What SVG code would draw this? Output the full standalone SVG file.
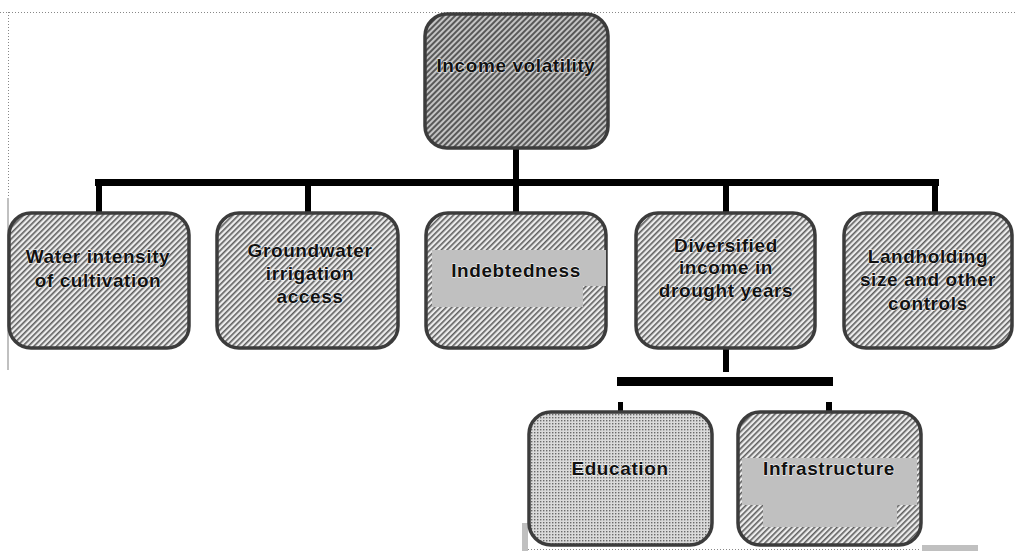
<svg xmlns="http://www.w3.org/2000/svg" width="1016" height="551" viewBox="0 0 1016 551">
<defs>
<pattern id="hatch" patternUnits="userSpaceOnUse" width="4" height="4" patternTransform="rotate(45)">
<rect width="4" height="4" fill="#ececec"/>
<rect width="1.6" height="4" fill="#5e5e5e"/>
</pattern>
<pattern id="hatchDark" patternUnits="userSpaceOnUse" width="4" height="4" patternTransform="rotate(45)">
<rect width="4" height="4" fill="#c4c4c4"/>
<rect width="2" height="4" fill="#585858"/>
</pattern>
<pattern id="stipple" patternUnits="userSpaceOnUse" width="3" height="3">
<rect width="3" height="3" fill="#dadada"/>
<rect width="1.4" height="1.4" fill="#6a6a6a"/>
</pattern>
</defs>
<style>
.box{stroke:#3c3c3c;stroke-width:3.5}
.lbl{font-family:"Liberation Sans",Arial,sans-serif;font-weight:bold;font-size:19px;letter-spacing:0.6px;fill:#111;text-anchor:middle;stroke:#ffffff;stroke-width:0.8;paint-order:stroke}
.bar{fill:#000}
.gray{fill:#c0c0c0}
.dot{stroke:#888;stroke-width:1;stroke-dasharray:1 2;fill:none}
</style>
<g id="decor">
<line class="dot" x1="0" y1="12.5" x2="1016" y2="12.5"/>
<line class="dot" x1="8.5" y1="12" x2="8.5" y2="372"/>
<rect class="gray" x="7" y="198" width="2" height="172"/>
<line class="dot" x1="528" y1="549.5" x2="921" y2="549.5"/>
<rect class="gray" x="522" y="523" width="6" height="28"/>
<rect class="gray" x="922" y="545" width="56" height="6"/>
</g>
<g id="connectors">
<rect class="bar" x="513" y="146" width="6" height="38"/>
<rect class="bar" x="95" y="179" width="844" height="7"/>
<rect class="bar" x="96" y="179" width="6" height="34"/>
<rect class="bar" x="305" y="179" width="6" height="34"/>
<rect class="bar" x="513" y="179" width="6" height="34"/>
<rect class="bar" x="723" y="179" width="6" height="34"/>
<rect class="bar" x="932" y="179" width="6" height="34"/>
<rect class="bar" x="723" y="346" width="6" height="26"/>
<rect class="bar" x="617" y="377" width="216" height="9"/>
<rect class="bar" x="618" y="402" width="5" height="10"/>
<rect class="bar" x="826" y="402" width="6" height="10"/>
</g>
<g id="income-volatility">
<rect class="box" x="425" y="14" width="183" height="134" rx="22" fill="url(#hatchDark)"/>
<text class="lbl" x="516" y="72">Income volatility</text>
</g>
<g id="water-intensity">
<rect class="box" x="9" y="213" width="180" height="135" rx="22" fill="url(#hatch)"/>
<text class="lbl" x="98" y="263">Water intensity</text>
<text class="lbl" x="98" y="287">of cultivation</text>
</g>
<g id="groundwater">
<rect class="box" x="217" y="213" width="181" height="135" rx="22" fill="url(#hatch)"/>
<text class="lbl" x="310" y="257">Groundwater</text>
<text class="lbl" x="310" y="280">irrigation</text>
<text class="lbl" x="310" y="303">access</text>
</g>
<g id="indebtedness">
<rect class="box" x="426" y="213" width="180" height="135" rx="22" fill="url(#hatch)"/>
<rect class="gray" x="432" y="250" width="174" height="36"/>
<rect class="gray" x="432" y="286" width="151" height="21"/>
<text class="lbl" x="516" y="277">Indebtedness</text>
</g>
<g id="diversified">
<rect class="box" x="636" y="213" width="179" height="135" rx="22" fill="url(#hatch)"/>
<text class="lbl" x="726" y="252">Diversified</text>
<text class="lbl" x="726" y="274">income in</text>
<text class="lbl" x="726" y="297">drought years</text>
</g>
<g id="landholding">
<rect class="box" x="844" y="213" width="168" height="135" rx="22" fill="url(#hatch)"/>
<text class="lbl" x="928" y="263">Landholding</text>
<text class="lbl" x="928" y="286">size and other</text>
<text class="lbl" x="928" y="310">controls</text>
</g>
<g id="education">
<rect class="box" x="529" y="412" width="183" height="133" rx="22" fill="url(#stipple)"/>
<text class="lbl" x="620" y="475">Education</text>
</g>
<g id="infrastructure">
<rect class="box" x="738" y="412" width="183" height="133" rx="22" fill="url(#hatch)"/>
<rect class="gray" x="742" y="458" width="175" height="47"/>
<rect class="gray" x="763" y="505" width="134" height="22"/>
<text class="lbl" x="829" y="475">Infrastructure</text>
</g>
</svg>
